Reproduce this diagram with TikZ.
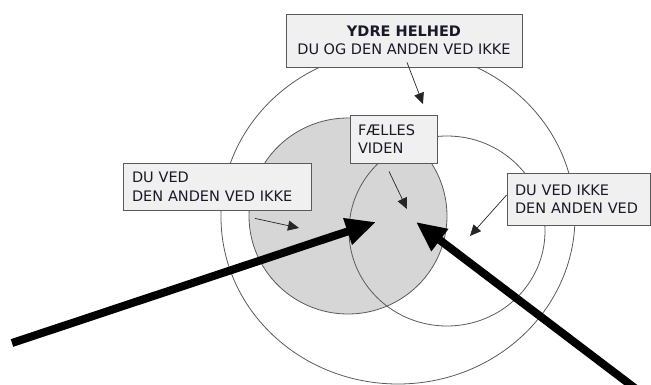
\documentclass[tikz,border=0pt]{standalone}
\usepackage{fontspec}
\setmainfont{DejaVu Sans}
\usetikzlibrary{arrows.meta}
\definecolor{circfill}{RGB}{214,214,214}
\definecolor{boxfill}{RGB}{240,240,240}
\definecolor{edgegray}{RGB}{90,90,90}
\definecolor{txt}{RGB}{25,25,40}
\tikzset{
  labelbox/.style={draw=edgegray, line width=0.8pt, fill=boxfill, rectangle, inner sep=0pt,
    font=\fontsize{14.5}{18.5}\selectfont, text=txt},
  ring/.style={draw=edgegray, line width=0.8pt},
  thinarrow/.style={draw=black!85, line width=0.7pt, -{Triangle[length=11pt,width=10pt]}},
  bigarrow/.style={draw=black, line width=8pt, -{Triangle[length=30pt,width=26pt]}}
}
\begin{document}
\begin{tikzpicture}[x=1pt,y=-1pt]
\useasboundingbox (0,0) rectangle (651,385);
\clip (0,0) rectangle (651,385);
% circles
\draw[ring] (398,217) ellipse [x radius=177, y radius=167];
\draw[ring, fill=circfill] (348,216) ellipse [x radius=99, y radius=98];
\draw[ring] (447,231) ellipse [x radius=98, y radius=95];
% boxes
\node[labelbox, minimum width=236pt, minimum height=53pt, align=center] (outer) at (404,40.5)
  {\textbf{YDRE HELHED}\\DU OG DEN ANDEN VED IKKE};
\node[labelbox, minimum width=87pt, minimum height=48pt, text width=71pt, align=left] (common) at (393.5,139)
  {FÆLLES\\VIDEN};
\node[labelbox, minimum width=188pt, minimum height=47pt, text width=170pt, align=left] (youknow) at (217,186.5)
  {DU VED\\DEN ANDEN VED IKKE};
\node[labelbox, minimum width=143pt, minimum height=52pt, text width=127pt, align=left] (otherknows) at (578.5,199)
  {DU VED IKKE\\DEN ANDEN VED};
% free ends
\coordinate (tOuter) at (423,104);
\coordinate (tCommon) at (407,209);
\coordinate (tYou) at (299,228);
\coordinate (tOther) at (470,236);
\coordinate (bigL) at (12,343);
\coordinate (bigR) at (640,392);
\coordinate (tipL) at (376,222);
\coordinate (tipR) at (416,222);
% thin arrows
\draw[thinarrow] (outer.south -| 407,0) ++(0,-5) -- (tOuter);
\draw[thinarrow] ([xshift=-4.5pt,yshift=-8pt]common.south) -- (tCommon);
\draw[thinarrow] ([xshift=38pt,yshift=-8pt]youknow.south) -- (tYou);
\draw[thinarrow] ([yshift=4pt]otherknows.west) -- (tOther);
% thick arrows
\draw[bigarrow] (bigL) -- (tipL);
\draw[bigarrow] (bigR) -- (tipR);
\end{tikzpicture}
\end{document}
